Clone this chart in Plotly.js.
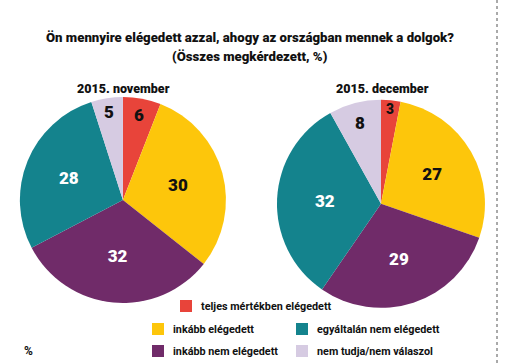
<!DOCTYPE html>
<html>
<head>
<meta charset="utf-8">
<script src="https://cdn.plot.ly/plotly-3.0.1.min.js"></script>
<style>html,body{margin:0;padding:0;background:#fff}#chart{width:510px;height:363px}</style>
</head>
<body>
<div id="chart"></div>
<script>
var categories = ["teljes mértékben elégedett", "inkább elégedett", "inkább nem elégedett", "egyáltalán nem elégedett", "nem tudja/nem válaszol"];
var colors = ["#e8443a", "#fdc60b", "#702b69", "#14838d", "#d6cbe2"];
var textColors = ["#111", "#111", "#fff", "#fff", "#111"];
var november = [6, 30, 32, 28, 5];
var december = [3, 27, 29, 32, 8];
var panelTitles = ["2015. november", "2015. december"];

var F = "Roboto, sans-serif";

function pie(values, dom) {
  return {
    type: "pie", values: values, labels: categories, sort: false, direction: "clockwise",
    rotation: 0, marker: {colors: colors, line: {width: 0}},
    textinfo: "value", textposition: "inside", insidetextorientation: "horizontal",
    textfont: {family: F, size: 17, color: textColors, weight: 900},
    hoverinfo: "label+value", showlegend: false, domain: dom
  };
}

var data = [
  pie(november, {x: [0.039, 0.443], y: [0.165, 0.733]}),
  pie(december, {x: [0.543, 0.951], y: [0.152, 0.725]})
];

var ann = [
  {text: "Ön mennyire elégedett azzal, ahogy az országban mennek a dolgok?", x: 0.49, y: 326, size: 13.2},
  {text: "(Összes megkérdezett, %)", x: 0.49, y: 307, size: 13.2},
  {text: panelTitles[0], x: 0.243, y: 275, size: 12.5},
  {text: panelTitles[1], x: 0.75, y: 275, size: 12.5}
].map(function (a) {
  return {text: a.text, x: a.x, y: a.y / 363, xref: "paper", yref: "paper", showarrow: false,
    xanchor: "center", yanchor: "middle", font: {family: F, size: a.size, color: "#111", weight: 900}};
});

// legend (custom)
var legPos = [[180, 306], [152, 329], [152, 351], [296, 329], [296, 351]];
var shapes = [];
legPos.forEach(function (p, i) {
  shapes.push({type: "rect", xref: "paper", yref: "paper", x0: p[0] / 510, x1: (p[0] + 12) / 510,
    y0: 1 - (p[1] + 6) / 363, y1: 1 - (p[1] - 6) / 363, fillcolor: colors[i], line: {width: 0}});
  ann.push({text: categories[i], x: (p[0] + 19) / 510, y: 1 - p[1] / 363,
    xref: "paper", yref: "paper", showarrow: false, xanchor: "left", yanchor: "middle",
    font: {family: F, size: 10.8, color: "#111", weight: 700}});
});
ann.push({text: "<b>%</b>", x: 28 / 510, y: 1 - 351 / 363, xref: "paper", yref: "paper", showarrow: false,
  xanchor: "center", yanchor: "middle", font: {family: F, size: 12, color: "#111"}});
shapes.push({type: "line", xref: "paper", yref: "paper", x0: 497 / 510, x1: 497 / 510, y0: 0, y1: 1,
  line: {color: "#555", width: 1, dash: "dot"}});

var layout = {
  width: 510, height: 363, margin: {l: 0, r: 0, t: 0, b: 0},
  paper_bgcolor: "#fff", plot_bgcolor: "#fff",
  annotations: ann, shapes: shapes, showlegend: false
};
Plotly.newPlot("chart", data, layout, {displayModeBar: false, staticPlot: true});
</script>
</body>
</html>
